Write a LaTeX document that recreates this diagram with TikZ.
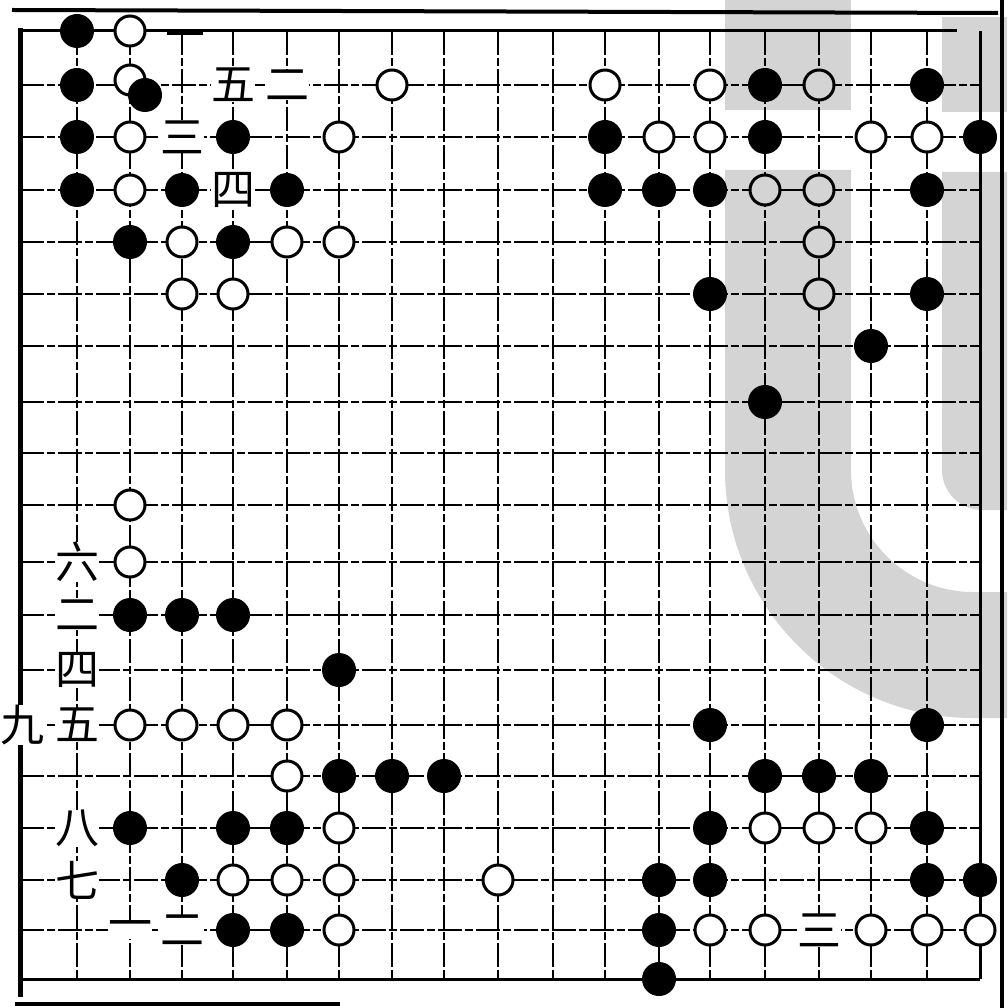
\documentclass[tikz,border=0pt]{standalone}
\usepackage{fontspec}
\newfontfamily\cjk{Noto Sans CJK SC}
\begin{document}
\begin{tikzpicture}[x=1pt,y=-1pt,
  bs/.style={circle,fill=black,minimum size=34pt,inner sep=0pt},
  ws/.style={circle,draw=black,line width=3pt,fill=white,minimum size=30pt,inner sep=0pt},
  lab/.style={font=\cjk\fontsize{44}{44}\selectfont,fill=white,inner sep=0pt},
  gridline/.style={line width=2pt,dash pattern=on 24pt off 3pt on 8pt off 3pt},
  edgeline/.style={line width=3pt},
  frameline/.style={line width=4pt},
  overlay gray/.style={fill=black,fill opacity=0.17}
]
\useasboundingbox (0,0) rectangle (1007,1008);
\fill[white] (0,0) rectangle (1007,1008);
% grid points
\foreach \yy [count=\j from 0] in {31,85,137,190,242,294,346,402,453,505,562,615,670,725,776,828,880,930,979}{
  \foreach \xx [count=\i from 0] in {20,77,130,182,233,287,339,392,444,498,553,605,659,710,765,819,871,927,980}{
    \coordinate (p\i-\j) at (\xx,\yy);
  }
}
% outer frame
\coordinate (ftl) at (12,10);
\coordinate (ftr) at (998,13);
\coordinate (frt) at (1002,0);
\coordinate (frb) at (1002,1008);
\coordinate (fbl) at (15,1004);
\coordinate (fbr) at (340,1004);
\draw[frameline] (ftl) -- (ftr);
\draw[frameline] (frt) -- (frb);
\draw[frameline] (fbl) -- (fbr);
% grid lines
\foreach \j in {1,...,17} \draw[gridline] (p0-\j) -- (p18-\j);
\foreach \i in {1,...,17} \draw[gridline] (p\i-0) -- (p\i-18);
\draw[edgeline] (p0-0) -- ([shift={(-23,0)}]p18-0);
\draw[edgeline] (p0-18) -- (p18-18);
\draw[edgeline] (p18-0) -- (p18-18);
\draw[line width=5pt] ([shift={(0,-3)}]p0-0) -- ([shift={(0,18)}]p0-18);
\draw[line width=5pt] ([shift={(-15,2)}]p3-0) -- ([shift={(21,2)}]p3-0);
% white stones
\foreach \c/\r in {2/0,2/2,2/3,3/4,5/4,6/4,3/5,4/5,6/2,7/1,11/1,12/2,13/1,13/2,15/1,14/3,15/3,15/4,15/5,16/2,17/2,
  2/9,2/10,2/13,3/13,4/13,5/13,5/14,6/15,14/15,15/15,16/15,4/16,5/16,6/16,9/16,
  6/17,13/17,14/17,16/17,17/17,18/17}
  \node[ws] (w\c-\r) at (p\c-\r) {};
\node[ws] (w2-1) at ([shift={(0,-5)}]p2-1) {};
% black stones
\foreach \c/\r in {1/0,1/1,1/2,1/3,4/2,3/3,5/3,2/4,4/4,11/2,14/2,18/2,11/3,12/3,13/3,17/3,14/1,17/1,
  13/5,17/5,16/6,14/7,2/11,3/11,4/11,6/12,13/13,17/13,6/14,7/14,8/14,14/14,15/14,16/14,
  2/15,4/15,5/15,13/15,17/15,3/16,12/16,13/16,17/16,18/16,4/17,5/17,12/17,12/18}
  \node[bs] (b\c-\r) at (p\c-\r) {};
\node[bs] (bx) at ([shift={(15,10)}]p2-1) {};
% labels
\node[lab] (l4-1) at (p4-1) {五};
\node[lab] (l5-1) at (p5-1) {二};
\node[lab] (l3-2) at (p3-2) {三};
\node[lab] (l4-3) at (p4-3) {四};
\node[lab] (l1-10) at (p1-10) {六};
\node[lab] (l1-11) at (p1-11) {二};
\node[lab] (l1-12) at (p1-12) {四};
\node[lab] (l0-13) at ([shift={(2,0)}]p0-13) {九};
\node[lab] (l1-13) at (p1-13) {五};
\node[lab] (l1-15) at (p1-15) {八};
\node[lab] (l1-16) at (p1-16) {七};
\node[lab] (l2-17) at (p2-17) {一};
\node[lab] (l3-17) at (p3-17) {二};
\node[lab] (l15-17) at (p15-17) {三};
% gray overlay
\fill[overlay gray] (725,0) rectangle (851,110);
\fill[overlay gray] (942,17) rectangle (1007,112);
\fill[overlay gray] (725,170) -- (851,170) -- (851,470) arc[start angle=180,end angle=90,radius=122]
  -- (1007,592) -- (1007,718) -- (973,718) arc[start angle=90,end angle=180,radius=248] -- cycle;
\fill[overlay gray] (942,172) -- (942,470) arc[start angle=180,end angle=90,radius=40]
  -- (1007,510) -- (1007,172) -- cycle;
\end{tikzpicture}
\end{document}
